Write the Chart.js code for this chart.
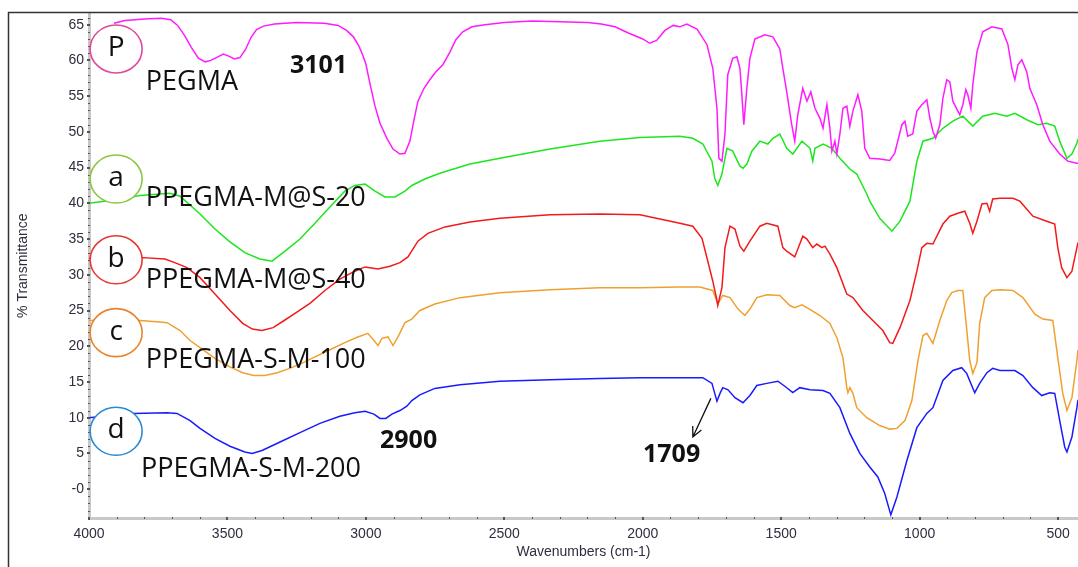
<!DOCTYPE html>
<html>
<head>
<meta charset="utf-8">
<script src="https://cdn.jsdelivr.net/npm/chart.js@4.4.1/dist/chart.umd.min.js"></script>
<style>
  html, body { margin: 0; padding: 0; background: #fff; }
  #ftir { display: block; }
</style>
</head>
<body>
<canvas id="ftir" width="1078" height="567"></canvas>
<script>
// [wavenumber cm-1, %T]
const pegma = [[3910,65.2],[3870,65.6],[3800,65.8],[3740,65.9],[3705,65.7],[3680,64.9],[3655,63.5],[3630,61.8],[3605,60.3],[3580,59.8],[3560,60.0],[3540,60.4],[3515,60.9],[3495,60.6],[3475,60.2],[3455,60.4],[3435,61.5],[3415,63.2],[3395,64.3],[3370,64.8],[3330,65.1],[3250,65.3],[3150,65.2],[3100,64.9],[3070,64.2],[3045,63.3],[3025,62.0],[3012,60.8],[3000,59.5],[2986,56.9],[2967,53.6],[2949,51.2],[2924,49.1],[2902,47.6],[2877,46.9],[2859,47.0],[2841,48.7],[2826,51.7],[2812,54.3],[2790,56.1],[2769,57.3],[2747,58.4],[2722,59.4],[2696,61.2],[2675,62.9],[2650,64.0],[2617,64.7],[2570,65.0],[2500,65.3],[2400,65.5],[2300,65.4],[2200,65.3],[2150,65.1],[2100,64.7],[2050,63.8],[2000,63.0],[1975,62.4],[1950,62.8],[1920,64.2],[1890,64.9],[1866,64.7],[1841,65.1],[1804,64.4],[1768,62.2],[1747,58.9],[1732,53.3],[1725,46.3],[1714,45.9],[1703,49.7],[1693,58.0],[1675,60.3],[1660,60.5],[1649,58.9],[1642,55.2],[1635,51.0],[1624,56.1],[1613,60.3],[1595,63.0],[1559,63.6],[1530,63.3],[1505,61.6],[1494,58.9],[1480,55.6],[1462,51.0],[1451,48.7],[1440,52.4],[1422,56.1],[1407,54.3],[1393,55.6],[1378,53.3],[1360,51.9],[1349,50.5],[1335,53.8],[1324,50.5],[1317,47.3],[1306,48.7],[1299,46.9],[1288,49.7],[1277,53.3],[1263,53.6],[1252,50.8],[1241,52.9],[1223,55.2],[1209,52.9],[1198,47.7],[1180,46.3],[1144,46.2],[1108,46.0],[1090,47.0],[1064,51.0],[1053,51.5],[1043,49.4],[1025,49.7],[1010,52.9],[992,53.8],[974,54.5],[963,51.9],[952,50.1],[942,49.1],[927,51.0],[916,54.7],[902,57.3],[891,57.0],[880,54.3],[855,52.4],[844,53.8],[833,55.9],[826,55.2],[815,53.3],[808,56.6],[793,61.2],[772,64.0],[739,64.7],[703,64.4],[681,62.2],[667,58.9],[656,57.3],[645,59.4],[631,60.1],[613,58.4],[602,56.1],[577,53.8],[555,51.0],[530,48.7],[494,46.9],[465,45.9],[432,45.6],[428,45.6]];

const ms20 = [[4000,40.0],[3924,40.4],[3816,41.1],[3708,41.4],[3671,41.0],[3599,38.5],[3545,36.4],[3491,34.6],[3437,33.1],[3383,32.2],[3339,31.9],[3292,33.3],[3238,35.0],[3184,37.2],[3130,39.5],[3076,41.7],[3040,42.5],[3003,42.7],[2967,41.7],[2931,40.9],[2895,40.9],[2859,41.7],[2834,42.5],[2787,43.4],[2733,44.2],[2624,45.5],[2516,46.3],[2335,47.6],[2155,48.7],[2010,49.2],[1866,49.4],[1819,49.1],[1783,48.3],[1750,45.9],[1740,43.5],[1729,42.5],[1714,44.1],[1696,47.7],[1675,47.3],[1649,45.2],[1638,44.9],[1624,45.5],[1606,47.3],[1577,48.7],[1548,48.3],[1530,49.1],[1505,49.7],[1480,47.7],[1458,46.9],[1425,48.7],[1396,47.7],[1386,45.9],[1378,47.7],[1349,48.3],[1317,47.7],[1288,46.3],[1252,44.8],[1227,44.1],[1191,41.3],[1180,40.3],[1144,37.9],[1100,36.1],[1071,37.5],[1035,40.3],[1010,45.9],[988,48.7],[952,49.1],[916,50.5],[880,51.5],[844,52.2],[808,50.8],[772,52.2],[728,52.6],[685,52.2],[656,52.6],[613,51.7],[573,51.0],[541,51.2],[512,50.8],[494,48.7],[468,46.3],[450,46.9],[432,48.4],[428,49.0]];

const ms40 = [[4000,32.3],[3900,32.4],[3805,32.4],[3726,32.2],[3690,31.7],[3646,31.0],[3599,29.6],[3545,27.3],[3491,25.0],[3445,23.2],[3410,22.4],[3375,22.2],[3335,22.6],[3295,23.6],[3256,24.6],[3202,26.0],[3148,27.8],[3094,29.4],[3040,30.5],[3003,31.1],[2956,30.8],[2913,31.2],[2877,31.7],[2848,32.5],[2812,34.7],[2776,35.8],[2714,36.7],[2624,37.4],[2516,37.9],[2335,38.4],[2155,38.5],[2010,38.4],[1866,37.2],[1819,36.8],[1786,35.1],[1765,31.9],[1747,29.1],[1732,26.4],[1729,25.7],[1714,28.2],[1703,33.8],[1685,36.8],[1667,36.4],[1649,34.0],[1635,33.3],[1613,34.7],[1577,36.8],[1552,37.2],[1512,36.8],[1494,33.8],[1480,33.3],[1451,32.5],[1422,35.4],[1407,35.0],[1386,33.8],[1371,34.3],[1353,33.8],[1342,34.0],[1324,32.9],[1299,31.0],[1263,27.3],[1241,26.8],[1205,25.0],[1169,23.6],[1133,22.2],[1108,20.5],[1097,20.4],[1071,22.6],[1035,26.4],[1010,30.5],[992,33.8],[974,34.4],[952,34.3],[916,37.1],[891,38.2],[862,38.6],[837,38.9],[819,37.2],[808,35.8],[793,37.5],[775,39.9],[757,40.0],[747,38.9],[736,40.6],[710,40.7],[663,40.7],[638,40.3],[591,38.2],[541,37.5],[512,37.1],[501,33.8],[487,31.0],[468,29.6],[450,30.5],[432,33.8],[428,34.5]];

const sm100 = [[4000,23.6],[3900,23.7],[3816,23.6],[3744,23.4],[3718,23.3],[3671,22.2],[3635,20.8],[3599,19.8],[3545,18.3],[3491,17.1],[3445,16.3],[3405,15.9],[3365,15.9],[3320,16.3],[3275,16.9],[3238,17.5],[3184,18.5],[3130,19.5],[3076,20.5],[3029,21.3],[2993,21.8],[2971,20.8],[2956,20.1],[2942,21.1],[2920,21.3],[2902,20.1],[2884,21.3],[2859,23.3],[2834,23.8],[2805,25.0],[2751,25.9],[2660,26.8],[2516,27.5],[2335,27.9],[2155,28.2],[2010,28.2],[1866,28.3],[1794,28.3],[1747,27.8],[1729,25.9],[1711,27.1],[1685,26.8],[1656,25.2],[1631,24.3],[1613,25.2],[1588,26.8],[1552,27.2],[1505,27.1],[1469,25.7],[1451,25.4],[1425,25.8],[1407,25.4],[1360,24.3],[1324,23.2],[1299,21.2],[1277,18.4],[1263,14.2],[1259,13.5],[1252,14.2],[1241,13.4],[1227,11.4],[1191,10.0],[1144,8.9],[1108,8.4],[1082,8.5],[1053,9.6],[1028,12.4],[1006,18.0],[988,21.5],[974,21.8],[952,20.4],[927,23.6],[902,26.4],[884,27.5],[862,27.8],[844,27.8],[833,23.6],[819,18.0],[808,16.2],[793,17.7],[783,23.2],[765,26.8],[739,27.8],[710,27.9],[663,27.8],[627,26.8],[584,24.5],[555,23.8],[519,23.6],[501,18.4],[483,13.4],[468,11.0],[450,12.8],[432,18.0],[428,19.5]];

const sm200 = [[4000,10.0],[3924,10.3],[3841,10.6],[3718,10.7],[3682,10.6],[3635,9.6],[3599,8.5],[3545,7.1],[3491,6.0],[3437,5.2],[3411,5.0],[3375,5.4],[3310,6.6],[3238,7.9],[3166,9.2],[3094,10.2],[3040,10.7],[3003,10.9],[2971,10.5],[2949,9.9],[2928,9.9],[2906,10.5],[2877,11.0],[2852,11.6],[2834,12.4],[2805,13.2],[2751,14.1],[2660,14.6],[2516,15.1],[2335,15.3],[2155,15.5],[2010,15.6],[1866,15.6],[1783,15.6],[1750,14.8],[1740,13.4],[1732,12.3],[1721,13.4],[1711,14.2],[1692,13.9],[1667,12.8],[1638,12.1],[1613,13.1],[1588,14.5],[1552,14.8],[1512,15.1],[1487,14.4],[1458,13.5],[1433,14.2],[1396,13.9],[1349,13.8],[1324,13.4],[1288,11.4],[1252,7.8],[1216,5.0],[1180,3.1],[1151,1.7],[1126,-0.6],[1104,-3.6],[1082,-1.1],[1046,4.0],[1010,8.6],[974,10.6],[952,11.4],[916,15.2],[880,16.6],[848,17.0],[830,16.2],[801,13.5],[783,14.8],[757,16.3],[736,16.9],[710,16.6],[656,16.6],[627,15.9],[591,14.2],[559,13.1],[530,13.5],[512,13.4],[494,9.6],[476,5.9],[468,5.2],[450,7.3],[432,11.4],[428,12.5]];

const seriesNames = ['PEGMA', 'PPEGMA-M@S-20', 'PPEGMA-M@S-40', 'PPEGMA-S-M-100', 'PPEGMA-S-M-200'];
const seriesTags = ['P', 'a', 'b', 'c', 'd'];
const xTickValues = [4000, 3500, 3000, 2500, 2000, 1500, 1000, 500];
const yTickValues = [65, 60, 55, 50, 45, 40, 35, 30, 25, 20, 15, 10, 5, 0];
const peakLabels = ['3101', '2900', '1709'];

const lineColors = ['#ff1aff', '#1ee61e', '#f21a1a', '#f0a030', '#1a1aff'];
const ringColors = ['#e0489c', '#8cc63f', '#e53935', '#e8832e', '#2a8ad0'];

const toXY = arr => arr.map(p => ({ x: p[0], y: p[1] }));
const allSeries = [pegma, ms20, ms40, sm100, sm200];

// where the tags / names / peak numbers sit, in data units
const tagPos = [[3902, 61.6], [3902, 43.4], [3902, 32.1], [3902, 21.9], [3902, 8.1]];
const namePos = [[3795, 55.9], [3795, 39.6], [3795, 28.2], [3795, 17.0], [3812, 1.7]];
const peakPos = [[3274, 58.2], [2949, 5.7], [1999, 3.8]];

const decor = {
  id: 'decor',
  beforeDraw(chart) {
    const ctx = chart.ctx;
    ctx.save();
    ctx.fillStyle = '#fff';
    ctx.fillRect(0, 0, chart.width, chart.height);
    ctx.restore();
  },
  afterDatasetsDraw(chart) {
    const ctx = chart.ctx;
    const xs = chart.scales.x, ys = chart.scales.y;
    const px = v => xs.getPixelForValue(v);
    const py = v => ys.getPixelForValue(v);
    ctx.save();
    // frame
    ctx.strokeStyle = '#333';
    ctx.lineWidth = 1.5;
    ctx.beginPath();
    ctx.moveTo(8.5, chart.height);
    ctx.lineTo(8.5, 12.5);
    ctx.lineTo(chart.width, 12.5);
    ctx.stroke();

    // minor / major tick marks on the axes
    ctx.fillStyle = '#555';
    const left = chart.chartArea.left, bottom = chart.chartArea.bottom;
    for (let v = -4; v <= 66; v++) {
      const y = Math.round(py(v));
      if (v % 5 === 0) ctx.fillRect(left - 2, y - 1, 3, 2);
      else ctx.fillRect(left - 1, y, 2, 1);
    }
    for (let w = 500; w <= 4000; w += 100) {
      const x = Math.round(px(w));
      if (w % 500 === 0) ctx.fillRect(x - 1, bottom - 1, 2, 3);
      else ctx.fillRect(x, bottom - 1, 1, 2);
    }

    // ringed tags
    for (let i = 0; i < seriesTags.length; i++) {
      const cx = px(tagPos[i][0]), cy = py(tagPos[i][1]);
      ctx.beginPath();
      ctx.ellipse(cx, cy, 26, 24, 0, 0, Math.PI * 2);
      ctx.fillStyle = '#fff';
      ctx.fill();
      ctx.lineWidth = 1.6;
      ctx.strokeStyle = ringColors[i];
      ctx.stroke();
      ctx.fillStyle = '#111';
      ctx.font = '28px "Open Sans"';
      ctx.textAlign = 'center';
      ctx.textBaseline = 'middle';
      ctx.fillText(seriesTags[i], cx, cy - 1);
    }

    // sample names
    ctx.textAlign = 'left';
    ctx.textBaseline = 'alphabetic';
    ctx.font = '27px "Open Sans"';
    ctx.fillStyle = '#111';
    for (let i = 0; i < seriesNames.length; i++) {
      ctx.fillText(seriesNames[i], px(namePos[i][0]), py(namePos[i][1]));
    }

    // peak numbers
    ctx.font = 'bold 25px "Open Sans"';
    for (let i = 0; i < peakLabels.length; i++) {
      ctx.fillText(peakLabels[i], px(peakPos[i][0]), py(peakPos[i][1]));
    }

    // arrow to the 1709 band
    const ax0 = px(1754), ay0 = py(12.7), ax1 = px(1819), ay1 = py(7.3);
    const ang = Math.atan2(ay1 - ay0, ax1 - ax0);
    ctx.strokeStyle = '#111';
    ctx.lineWidth = 1.3;
    ctx.beginPath();
    ctx.moveTo(ax0, ay0);
    ctx.lineTo(ax1, ay1);
    ctx.moveTo(ax1 - 11 * Math.cos(ang - 0.45), ay1 - 11 * Math.sin(ang - 0.45));
    ctx.lineTo(ax1, ay1);
    ctx.lineTo(ax1 - 11 * Math.cos(ang + 0.45), ay1 - 11 * Math.sin(ang + 0.45));
    ctx.stroke();
    ctx.restore();
  }
};

new Chart(document.getElementById('ftir'), {
  type: 'line',
  data: {
    datasets: allSeries.map((s, i) => ({
      label: seriesNames[i],
      data: toXY(s),
      borderColor: lineColors[i],
      borderWidth: 1.5,
      pointRadius: 0,
      tension: 0,
      fill: false
    }))
  },
  options: {
    responsive: false,
    animation: false,
    events: [],
    layout: { padding: { left: 8, top: 12, right: 0, bottom: 0 } },
    plugins: { legend: { display: false }, tooltip: { enabled: false } },
    scales: {
      x: {
        type: 'linear',
        reverse: true,
        min: 428,
        max: 4000,
        afterBuildTicks: s => { s.ticks = xTickValues.map(v => ({ value: v })); },
        afterFit: s => { s.height = 49; },
        grid: { display: false, drawTicks: false },
        border: { display: true, color: '#c8c8c8', width: 3 },
        ticks: {
          padding: 8,
          maxRotation: 0,
          autoSkip: false,
          color: '#2e2e3e',
          font: { family: 'Liberation Sans, Arial', size: 14 },
          callback: v => String(v)
        },
        title: {
          display: true,
          text: 'Wavenumbers (cm-1)',
          color: '#2e2e3e',
          font: { family: 'Liberation Sans, Arial', size: 14 },
          padding: { top: 0, bottom: 6 }
        }
      },
      y: {
        min: -4.04,
        max: 66.58,
        afterBuildTicks: s => { s.ticks = yTickValues.map(v => ({ value: v })); },
        afterFit: s => { s.width = 81; },
        grid: { display: false, drawTicks: false },
        border: { display: true, color: '#c8c8c8', width: 3 },
        ticks: {
          padding: 5,
          autoSkip: false,
          color: '#2e2e3e',
          font: { family: 'Liberation Sans, Arial', size: 14 },
          callback: v => (v === 0 ? '-0' : String(v))
        },
        title: {
          display: true,
          text: '% Transmittance',
          color: '#2e2e3e',
          font: { family: 'Liberation Sans, Arial', size: 14 },
          padding: { top: 7, bottom: 0 }
        }
      }
    }
  },
  plugins: [decor]
});
</script>
</body>
</html>
